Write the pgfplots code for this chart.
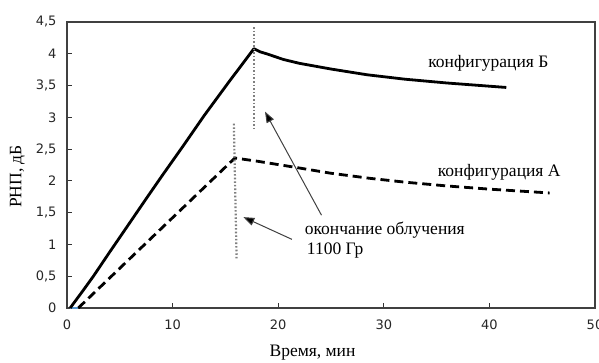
\documentclass[border=0pt]{standalone}
\usepackage{pgfplots}
\pgfplotsset{compat=1.18}
\usepackage{fontspec}
\setmainfont{Liberation Serif}
\newfontfamily\ticksf{DejaVu Sans}
\usetikzlibrary{arrows.meta}
\begin{document}
\begin{tikzpicture}
\useasboundingbox (-67pt,-55pt) rectangle (532pt,308pt);
\begin{axis}[
  scale only axis, width=528pt, height=286pt,
  xmin=0, xmax=50, ymin=0, ymax=4.5,
  xtick={0,10,...,50}, ytick={0,0.5,...,4.5},
  xtick pos=left, ytick pos=left,
  tick align=inside, major tick length=5pt,
  tick style={line width=1pt, color=black!80},
  axis line style={line width=1.2pt, color=black!75},
  /pgf/number format/assume math mode=true,
  /pgf/number format/use comma,
  ticklabel style={font=\ticksf\fontsize{13}{15}\selectfont, color=black!85},
  xticklabel style={yshift=-8pt},
  yticklabel style={xshift=-7pt},
  xlabel={Время, мин},
  ylabel={РНП, дБ},
  label style={font=\fontsize{17.5}{20}\selectfont},
  xlabel style={at={(axis description cs:0.465,0)}, anchor=center, yshift=-45pt},
  ylabel style={at={(axis description cs:-0.094,0.46)}, anchor=center},
  clip=false,
]
% blue zero series
\addplot[color={rgb,255:red,91;green,155;blue,213}, line width=2.4pt] coordinates {(0.3,0) (1.0,0)};
% configuration B
\addplot[black, line width=2.8pt, line join=round] coordinates {
(0.3,0) (1.5,0.27) (2.5,0.5) (4,0.87) (5.65,1.27) (7.5,1.72) (9,2.08) (11,2.55) (13,3.03) (15.3,3.55) (17.7,4.08)
(18.3,4.03) (18.9,4.0) (20.5,3.91) (22,3.85) (25,3.76) (28.4,3.67) (32,3.6) (36,3.54) (41.6,3.47)};
% configuration A
\addplot[black, line width=2.8pt, dash pattern=on 9pt off 5pt] coordinates {
(1.07,0) (15.9,2.36) (18,2.31) (21.75,2.21) (25,2.12) (28.7,2.04) (32,1.98) (36,1.92) (40,1.87) (45.7,1.81)};
% dotted markers
\addplot[gray, line width=2.2pt, dash pattern=on 1.6pt off 2pt] coordinates {(17.7,4.42) (17.7,2.80)};
\addplot[gray, line width=2.2pt, dash pattern=on 1.6pt off 2pt] coordinates {(15.8,2.90) (16.06,0.78)};
% arrows
\draw[black!75, line width=1pt, -{Triangle[length=11pt,width=8pt,fill=black]}] (axis cs:24.1,1.46) -- (axis cs:18.75,3.09);
\draw[black!75, line width=1pt, -{Triangle[length=11pt,width=8pt,fill=black]}] (axis cs:21.3,1.08) -- (axis cs:16.7,1.43);
% texts
\node[anchor=west, inner sep=0pt, font=\fontsize{17.5}{20}\selectfont] at (axis cs:34.2,3.85) {конфигурация Б};
\node[anchor=west, inner sep=0pt, font=\fontsize{17.5}{20}\selectfont] at (axis cs:35.1,2.14) {конфигурация А};
\node[anchor=west, inner sep=0pt, font=\fontsize{17.5}{20}\selectfont] at (axis cs:22.5,1.23) {окончание облучения};
\node[anchor=west, inner sep=0pt, font=\fontsize{17.5}{20}\selectfont] at (axis cs:22.7,0.90) {1100 Гр};
\end{axis}
\end{tikzpicture}
\end{document}
